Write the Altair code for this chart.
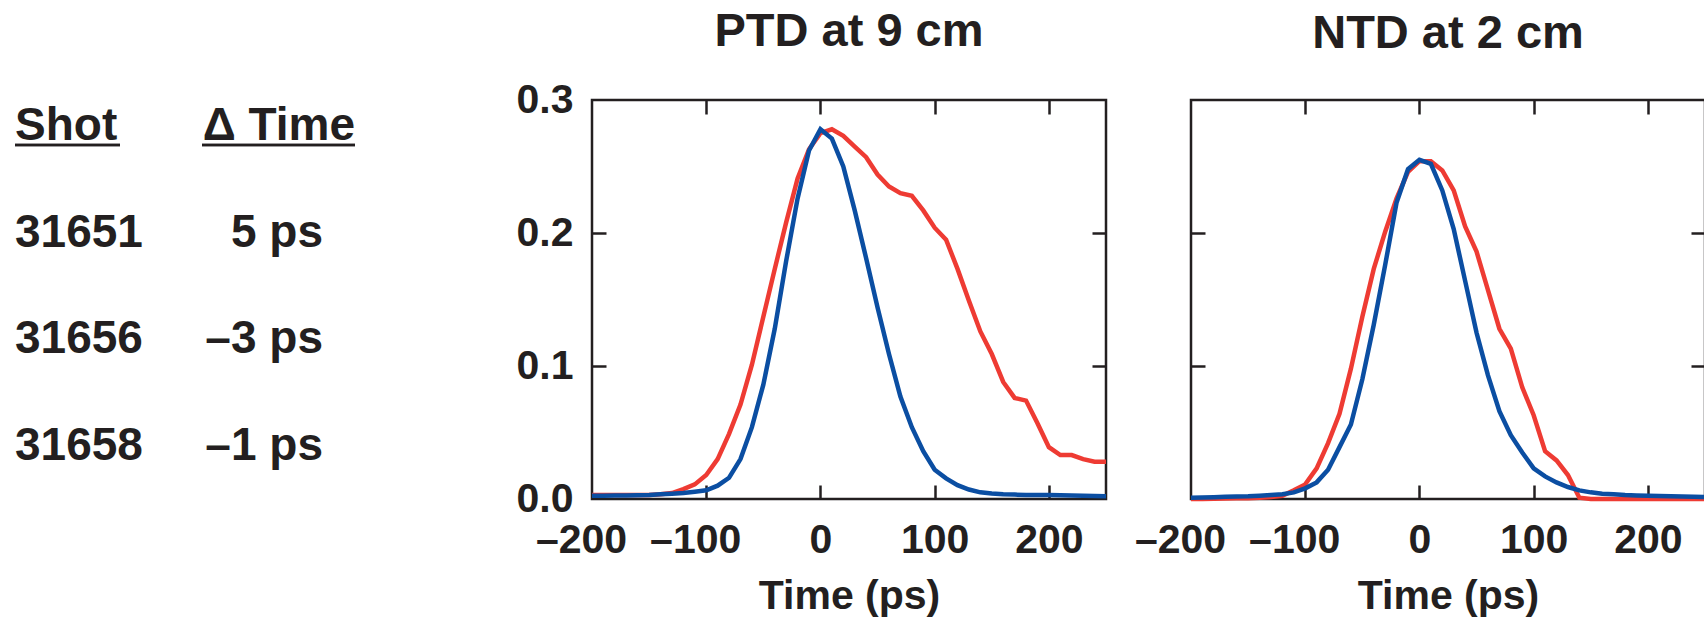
import altair as alt
import pandas as pd

# ---------------- data ----------------
time_ps = list(range(-200, 251, 10))

ptd_red = [0.003, 0.003, 0.003, 0.003, 0.003, 0.003, 0.0035, 0.0045, 0.0074, 0.011,
           0.018, 0.030, 0.049, 0.071, 0.101, 0.137, 0.173, 0.208, 0.241, 0.263,
           0.275, 0.278, 0.273, 0.265, 0.257, 0.244, 0.235, 0.230, 0.228, 0.217,
           0.204, 0.195, 0.173, 0.149, 0.126, 0.109, 0.088, 0.076, 0.074, 0.057,
           0.039, 0.033, 0.033, 0.030, 0.028, 0.028]
ptd_blue = [0.0024, 0.0025, 0.0026, 0.0027, 0.0028, 0.003, 0.0035, 0.004, 0.0045, 0.0055,
            0.0065, 0.010, 0.016, 0.030, 0.054, 0.086, 0.128, 0.179, 0.226, 0.262,
            0.278, 0.271, 0.250, 0.217, 0.181, 0.144, 0.109, 0.077, 0.054, 0.036,
            0.022, 0.0155, 0.0104, 0.0071, 0.005, 0.0042, 0.0036, 0.0033, 0.0031, 0.003,
            0.003, 0.0028, 0.0026, 0.0024, 0.0022, 0.002]
ntd_red = [0.0, 0.0, 0.0002, 0.0004, 0.0005, 0.0006, 0.001, 0.0015, 0.0024, 0.0065,
           0.011, 0.023, 0.042, 0.064, 0.098, 0.137, 0.173, 0.201, 0.226, 0.246,
           0.254, 0.254, 0.247, 0.232, 0.205, 0.186, 0.157, 0.128, 0.113, 0.084,
           0.063, 0.036, 0.029, 0.018, 0.001, 0.0, 0.0, 0.0, 0.0, 0.0,
           0.0, 0.0, 0.0, 0.0, 0.0, 0.0]
ntd_blue = [0.001, 0.0012, 0.0014, 0.0016, 0.0018, 0.002, 0.0025, 0.003, 0.0036, 0.005,
            0.008, 0.0125, 0.022, 0.039, 0.056, 0.090, 0.131, 0.176, 0.223, 0.248,
            0.255, 0.252, 0.232, 0.203, 0.164, 0.125, 0.093, 0.066, 0.048, 0.035,
            0.023, 0.017, 0.0125, 0.009, 0.0065, 0.005, 0.004, 0.0036, 0.003, 0.0027,
            0.0024, 0.0022, 0.002, 0.0018, 0.0016, 0.0015]

panel_titles = ["PTD at 9 cm", "NTD at 2 cm"]
x_label_values = [-200, -100, 0, 100, 200]
x_tick_values = [-100, 0, 100, 200]
y_label_values = [0.0, 0.1, 0.2, 0.3]
y_tick_values = [0.1, 0.2]
x_title = "Time (ps)"

headers = ["Shot", "Δ Time"]
shots = ["31651", "31656", "31658"]
delta_times = ["5 ps", "–3 ps", "–1 ps"]

# ---------------- style ----------------
INK = "#231f20"
RED = "#ee3b33"
BLUE = "#0b4ea2"
FONT = "Liberation Sans"
W, H = 514, 399
TICK = 14

xs = alt.Scale(domain=[-200, 250], nice=False, zero=False)
ys = alt.Scale(domain=[0, 0.3], nice=False, zero=False)


def tick_axis(orient, values):
    return alt.Axis(orient=orient, offset=-TICK, values=values, ticks=True, tickSize=TICK,
                    tickWidth=2.5, tickColor=INK, labels=False, domain=False, grid=False,
                    minExtent=0, maxExtent=0, title=None)


def panel(title, red, blue, show_y, title_offset):
    n = len(time_ps)
    df = pd.DataFrame({"t": time_ps * 2, "v": red + blue,
                       "s": ["red"] * n + ["blue"] * n})
    base = alt.Chart(df)

    x_lab_axis = alt.Axis(
        orient="bottom", values=x_label_values, ticks=False, tickSize=0, domain=False,
        grid=False, labelFont=FONT, labelFontSize=41, labelFontWeight="bold",
        labelColor=INK, labelPadding=21, labelOverlap=False, labelFlush=False,
        labelExpr="datum.value < 0 ? '–' + abs(datum.value) : datum.label",
        labelOffset={"condition": {"test": "datum.value < 0", "value": -11}, "value": 0},
        title=x_title, titleFont=FONT, titleFontSize=41, titleFontWeight="bold",
        titleColor=INK, titlePadding=16)
    if show_y:
        y_lab_axis = alt.Axis(
            orient="left", values=y_label_values, ticks=False, tickSize=0, domain=False,
            grid=False, format=".1f", labelFont=FONT, labelFontSize=41,
            labelFontWeight="bold", labelColor=INK, labelPadding=19, labelOverlap=False,
            labelFlush=False, title=None)
    else:
        y_lab_axis = alt.Axis(orient="left", labels=False, ticks=False, domain=False,
                              grid=False, minExtent=0, maxExtent=0, title=None)

    red_line = base.transform_filter(alt.datum.s == "red").mark_line(
        color=RED, strokeWidth=4.5).encode(
        x=alt.X("t:Q", scale=xs, axis=x_lab_axis),
        y=alt.Y("v:Q", scale=ys, axis=y_lab_axis))
    blue_line = base.transform_filter(alt.datum.s == "blue").mark_line(
        color=BLUE, strokeWidth=4.5).encode(
        x=alt.X("t:Q", scale=xs, axis=tick_axis("bottom", x_tick_values)),
        y=alt.Y("v:Q", scale=ys, axis=tick_axis("left", y_tick_values)))
    ghost = base.transform_filter(alt.datum.s == "blue").mark_line(
        strokeOpacity=0).encode(
        x=alt.X("t:Q", scale=xs, axis=tick_axis("top", x_tick_values)),
        y=alt.Y("v:Q", scale=ys, axis=tick_axis("right", y_tick_values)))

    return alt.layer(ghost, red_line, blue_line).resolve_axis(
        x="independent", y="independent").properties(
        width=W, height=H,
        title=alt.TitleParams(title, font=FONT, fontSize=47, fontWeight="bold",
                              color=INK, anchor="middle", offset=title_offset))


# ---------------- text table ----------------
col_scale = alt.Scale(domain=headers, range=[15, 323], padding=0)
row_scale = alt.Scale(domain=[0, 3], range=[40, 360])

tbl = pd.DataFrame({"row": [1, 2, 3], "shot": shots, "dt": delta_times,
                    "c_shot": [headers[0]] * 3, "c_dt": [headers[1]] * 3})
hdr = pd.DataFrame({"row": [0, 0], "label": headers, "col": headers})

txt_style = dict(font=FONT, fontSize=46, fontWeight="bold", color=INK,
                 baseline="alphabetic")

shot_txt = alt.Chart(tbl).mark_text(align="left", **txt_style).encode(
    x=alt.X("c_shot:N", scale=col_scale, axis=None),
    y=alt.Y("row:Q", scale=row_scale, axis=None),
    text="shot:N")
dt_txt = alt.Chart(tbl).mark_text(align="right", **txt_style).encode(
    x=alt.X("c_dt:N", scale=col_scale, axis=None),
    y=alt.Y("row:Q", scale=row_scale, axis=None),
    text="dt:N")
hdr_shot = alt.Chart(hdr).transform_filter(alt.datum.col == headers[0]).mark_text(
    align="left", **txt_style).encode(
    x=alt.X("col:N", scale=col_scale, axis=None),
    y=alt.Y("row:Q", scale=row_scale, axis=None),
    text="label:N")
hdr_dt = alt.Chart(hdr).transform_filter(alt.datum.col == headers[1]).mark_text(
    align="right", dx=32, **txt_style).encode(
    x=alt.X("col:N", scale=col_scale, axis=None),
    y=alt.Y("row:Q", scale=row_scale, axis=None),
    text="label:N")
ul1 = alt.Chart(hdr).mark_rule(color=INK, strokeWidth=2.5).encode(
    x=alt.value(15), x2=alt.value(120), y=alt.value(45))
ul2 = alt.Chart(hdr).mark_rule(color=INK, strokeWidth=2.5).encode(
    x=alt.value(202), x2=alt.value(355), y=alt.value(45))

table = alt.layer(shot_txt, dt_txt, hdr_shot, hdr_dt, ul1, ul2).properties(
    width=507, height=399, view=alt.ViewBackground(stroke="transparent"))

p1 = panel(panel_titles[0], ptd_red, ptd_blue, True, 23)
p2 = panel(panel_titles[1], ntd_red, ntd_blue, False, 41)

# fixed-size canvas: plot areas start at y=100, concat starts at x=0
chart = alt.hconcat(table, p1, p2, spacing=85, bounds="flush").properties(
    autosize=alt.AutoSizeParams(type="none"),
    padding={"left": 0, "top": 100, "right": 1704, "bottom": 521},
    background="white").configure_view(stroke=INK, strokeWidth=2.5)

chart.save("out.html", embed_options={"renderer": "svg", "actions": False})
